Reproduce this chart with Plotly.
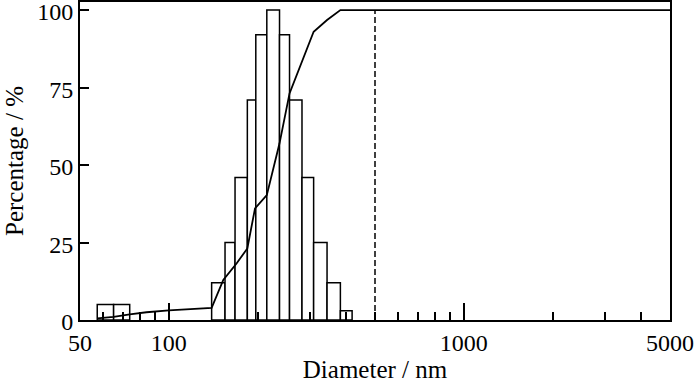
import plotly.graph_objects as go

# Histogram bins (nm) and relative heights (%)
bin_left = [57.2, 65.0, 139.7, 155.1, 167.7, 184.6, 197.2, 214.9, 237.3, 256.6, 282.8, 309.7, 343.9, 381.6]
bin_right = [65.0, 73.7, 155.1, 167.7, 184.6, 197.2, 214.9, 237.3, 256.6, 282.8, 309.7, 343.9, 381.6, 418.2]
bar_heights = [5, 5, 12, 25, 46, 71, 92, 100, 92, 71, 46, 25, 12, 3]

# Cumulative curve
cum_d = [57.2, 65.0, 73.7, 84, 100, 139.7, 153.0, 169.9, 184.6, 196.0, 214.9, 237.3, 256.6, 282.8, 309.7, 343.9, 381.6, 5000]
cum_p = [0.5, 1.0, 1.8, 2.5, 3.1, 3.9, 12.9, 18.3, 23.1, 36.0, 40.3, 57.0, 73.1, 83.3, 93.0, 96.8, 100, 100]

# Dashed reference line
ref_d = [500, 500]
ref_p = [0, 100]

x_tickvals = [50, 100, 1000, 5000]
x_ticktext = ["50", "100", "1000", "5000"]
x_minor = [60, 70, 80, 90, 200, 300, 400, 500, 600, 700, 800, 900, 2000, 3000, 4000]
y_tickvals = [0, 25, 50, 75, 100]

fig = go.Figure()
for xl, xr, h in zip(bin_left, bin_right, bar_heights):
    fig.add_trace(go.Scatter(
        x=[xl, xl, xr, xr, xl], y=[0, h, h, 0, 0],
        mode="lines", fill="toself", fillcolor="white",
        line=dict(color="black", width=1.5), showlegend=False, hoverinfo="skip"))

fig.add_trace(go.Scatter(x=ref_d, y=ref_p, mode="lines",
                         line=dict(color="black", width=1.5, dash="6px,3px"),
                         showlegend=False))
fig.add_trace(go.Scatter(x=cum_d, y=cum_p, mode="lines",
                         line=dict(color="black", width=1.8), showlegend=False))

font = dict(family="Liberation Serif", size=25, color="black")
tick_font = dict(family="Liberation Serif", size=24, color="black")
fig.update_layout(
    width=700, height=386,
    margin=dict(l=80, r=30, t=2, b=66),
    paper_bgcolor="white", plot_bgcolor="white",
    font=font, showlegend=False,
    xaxis=dict(type="log", range=[1.69897, 3.69897], automargin=False,
               ticklabeloverflow="allow",
               tickmode="array", tickvals=x_tickvals, ticktext=x_ticktext,
               ticks="inside", ticklen=17, tickwidth=1.5, tickcolor="black",
               minor=dict(tickmode="array", tickvals=x_minor, ticks="inside",
                          ticklen=8, tickwidth=1.5, tickcolor="black"),
               showline=True, linecolor="black", linewidth=2, mirror=True,
               showgrid=False, zeroline=False,
               title=dict(text="Diameter / nm", font=font, standoff=4),
               tickfont=tick_font),
    yaxis=dict(range=[0, 102.6], automargin=False,
               ticklabeloverflow="allow", ticklabelshift=2,
               tickmode="array", tickvals=y_tickvals,
               ticks="inside", ticklen=9, tickwidth=1.5, tickcolor="black",
               showline=True, linecolor="black", linewidth=2, mirror=True,
               showgrid=False, zeroline=False,
               title=dict(text="Percentage / %", font=font, standoff=6),
               tickfont=tick_font),
)

fig.write_html("out.html", config={"displayModeBar": False},
               post_script="document.body.style.margin='0';document.body.style.padding='0';")
